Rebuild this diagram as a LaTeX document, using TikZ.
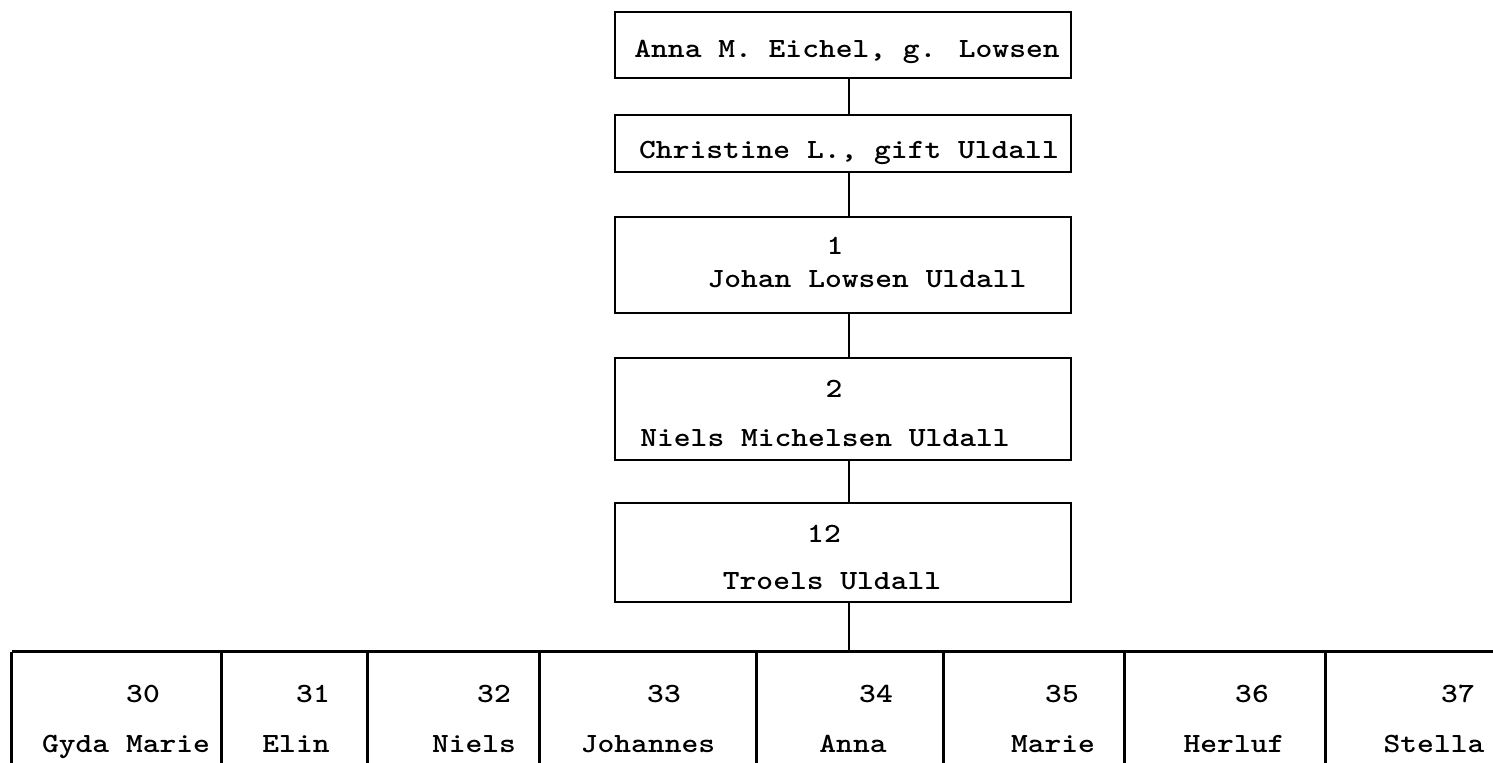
\documentclass[tikz,border=0pt]{standalone}
\usepackage{fontspec}
\usepackage{tikz}

\newfontfamily\skriftfam{lmmonolt10-bold.otf}[FakeStretch=1.15]
\newcommand{\skrift}{\fontsize{13.9pt}{16pt}\selectfont\skriftfam}

\tikzset{
  boks/.style={draw, line width=1.2pt, inner sep=0pt},
  celle/.style={inner sep=0pt, minimum height=55.5pt},
  tekst/.style={inner sep=0pt, anchor=base, font=\skrift},
  linje/.style={line width=1.2pt},
}

\begin{document}
\begin{tikzpicture}[x=0.5pt, y=-0.5pt]

\useasboundingbox (0,0) rectangle (1493,763);

% line of descent
\coordinate (stamme) at (849,0);

% Boxes
\node[boks, minimum width=228pt, minimum height=33pt] (anna) at (843,45) {};
\node[boks, minimum width=228pt, minimum height=28.5pt] (christine) at (843,143.5) {};
\node[boks, minimum width=228pt, minimum height=48pt] (johan) at (843,265) {};
\node[boks, minimum width=228pt, minimum height=51pt] (niels) at (843,409) {};
\node[boks, minimum width=228pt, minimum height=49.5pt] (troels) at (843,552.5) {};

% Texts in the boxes
\node[tekst] (annaT) at (847,58) {Anna M. Eichel, g. Lowsen};
\node[tekst] (christineT) at (849,159) {Christine L., gift Uldall};
\node[tekst] (johanN) at (835,255) {1};
\node[tekst] (johanT) at (867,288) {Johan Lowsen Uldall};
\node[tekst] (nielsN) at (834,398) {2};
\node[tekst] (nielsT) at (825,447) {Niels Michelsen Uldall};
\node[tekst] (troelsN) at (824,543) {12};
\node[tekst] (troelsT) at (832,590) {Troels Uldall};

% Children
\foreach \nr/\navn/\xl/\xr/\xn/\xm in {30/Gyda Marie/12/222/143/126,
    31/Elin/222/368/313/296, 32/Niels/368/540/494/474,
    33/Johannes/540/757/664/648, 34/Anna/757/944/876/853,
    35/Marie/944/1125/1062/1053, 36/Herluf/1125/1326/1252/1234,
    37/Stella/1326/1493/1458/1434}
{
  \node[celle, minimum width={(\xr-\xl)*0.5pt}] (k\nr) at ({(\xl+\xr)/2},707.5) {};
  \node[tekst] (n\nr) at (\xn,703) {\nr};
  \node[tekst] (m\nr) at (\xm,752) {\navn};
  \draw[linje] (k\nr.north west) -- (k\nr.south west);
}
\draw[linje] (k30.north west) -- (k37.north east);

% Connectors
\draw[linje] (anna.south -| stamme) -- (christine.north -| stamme);
\draw[linje] (christine.south -| stamme) -- (johan.north -| stamme);
\draw[linje] (johan.south -| stamme) -- (niels.north -| stamme);
\draw[linje] (niels.south -| stamme) -- (troels.north -| stamme);
\draw[linje] (troels.south -| stamme) -- (k34.north -| stamme);

\end{tikzpicture}
\end{document}
